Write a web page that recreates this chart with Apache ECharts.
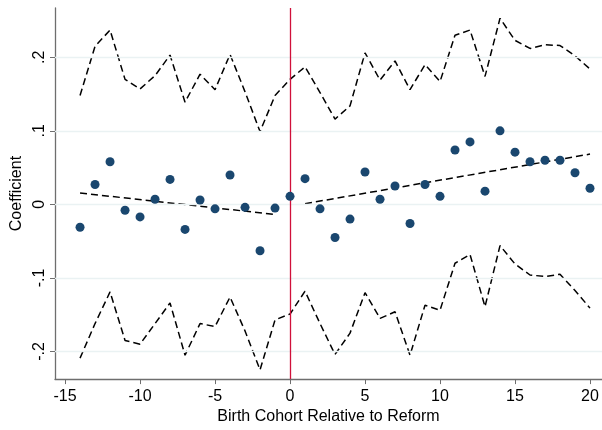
<!DOCTYPE html>
<html>
<head>
<meta charset="utf-8">
<script src="https://cdn.jsdelivr.net/npm/echarts@6/dist/echarts.min.js"></script>
<style>html,body{margin:0;padding:0;background:#fff}#c{width:602px;height:430px}</style>
</head>
<body>
<div id="c"></div>
<script>
var cohorts = [-14,-13,-12,-11,-10,-9,-8,-7,-6,-5,-4,-3,-2,-1,0,1,2,3,4,5,6,7,8,9,10,11,12,13,14,15,16,17,18,19,20];
var coef = [-0.031,0.027,0.058,-0.008,-0.017,0.007,0.034,-0.034,0.006,-0.006,0.040,-0.004,-0.063,-0.005,0.011,0.035,-0.006,-0.045,-0.020,0.044,0.007,0.025,-0.026,0.027,0.011,0.074,0.085,0.018,0.100,0.071,0.058,0.060,0.060,0.043,0.022];
var upper = [0.148,0.215,0.237,0.170,0.157,0.175,0.203,0.139,0.177,0.156,0.204,0.153,0.099,0.148,0.170,0.187,0.152,0.116,0.134,0.206,0.169,0.195,0.156,0.190,0.167,0.230,0.237,0.174,0.253,0.223,0.212,0.217,0.216,0.202,0.184];
var lower = [-0.209,-0.162,-0.119,-0.185,-0.190,-0.162,-0.134,-0.205,-0.162,-0.166,-0.126,-0.172,-0.225,-0.157,-0.149,-0.118,-0.162,-0.204,-0.175,-0.120,-0.155,-0.146,-0.205,-0.137,-0.144,-0.080,-0.068,-0.139,-0.056,-0.081,-0.096,-0.098,-0.095,-0.117,-0.141];
var fitLeftX = [-14,-1], fitLeftY = [0.0155,-0.0137];
var fitRightX = [1,20], fitRightY = [0.001,0.0684];
var xTicks = [-15,-10,-5,0,5,10,15,20];
var yTicks = [-0.2,-0.1,0,0.1,0.2];
var xTitle = 'Birth Cohort Relative to Reform';
var yTitle = 'Coefficient';

function pairs(xs, ys){ return xs.map(function(x,i){ return [x, ys[i]]; }); }
function fmtY(v){
  var s = (Math.round(v*10)/10).toString();
  if (s === '0') return '0';
  return s.replace('0.', '.');
}
var font = 'Liberation Sans, Arial, sans-serif';
var chart = echarts.init(document.getElementById('c'));
var dashStyle = {color:'#000', width:1.5, type:[7,4]};
chart.setOption({
  animation:false,
  backgroundColor:'#fff',
  grid:{left:55, right:0, top:8, bottom:47},
  xAxis:{
    type:'value', min:-15.67, max:20.8,
    name:xTitle, nameLocation:'middle', nameGap:27,
    nameTextStyle:{fontFamily:font, fontSize:16, color:'#000'},
    axisLine:{show:true, onZero:false, lineStyle:{color:'#6e6e6e', width:1.3}},
    axisTick:{show:true, length:5, lineStyle:{color:'#6e6e6e'}, customValues:xTicks},
    axisLabel:{fontFamily:font, fontSize:16, color:'#000', margin:9, customValues:xTicks, formatter:function(v){return String(v);}},
    splitLine:{show:false}
  },
  yAxis:{
    type:'value', min:-0.2375, max:0.267,
    name:yTitle, nameLocation:'middle', nameGap:23,
    nameTextStyle:{fontFamily:font, fontSize:16, color:'#000'},
    axisLine:{show:true, onZero:false, lineStyle:{color:'#6e6e6e', width:1.3}},
    axisTick:{show:true, length:5, lineStyle:{color:'#6e6e6e'}, customValues:yTicks},
    axisLabel:{fontFamily:font, fontSize:16, color:'#000', rotate:90, margin:7, customValues:yTicks, formatter:fmtY},
    splitLine:{show:false}
  },
  series:[
    {type:'line', data:[], silent:true,
     markLine:{silent:true, symbol:'none', label:{show:false},
       lineStyle:{color:'#eaf2f3', width:1.3, type:'solid'},
       data:yTicks.map(function(v){return {yAxis:v};})}},
    {type:'line', data:pairs(cohorts, upper), showSymbol:false, symbol:'none', lineStyle:dashStyle, z:3},
    {type:'line', data:pairs(cohorts, lower), showSymbol:false, symbol:'none', lineStyle:dashStyle, z:3},
    {type:'line', data:pairs(fitLeftX, fitLeftY), showSymbol:false, symbol:'none', lineStyle:dashStyle, z:3},
    {type:'line', data:pairs(fitRightX, fitRightY), showSymbol:false, symbol:'none', lineStyle:dashStyle, z:3},
    {type:'scatter', data:pairs(cohorts, coef), symbol:'circle', symbolSize:9, itemStyle:{color:'#1a476f', opacity:1}, z:5,
     markLine:{silent:true, symbol:'none', label:{show:false}, lineStyle:{color:'#d0103a', width:1.3, type:'solid'}, data:[{xAxis:0}]}}
  ]
});
</script>
</body>
</html>
